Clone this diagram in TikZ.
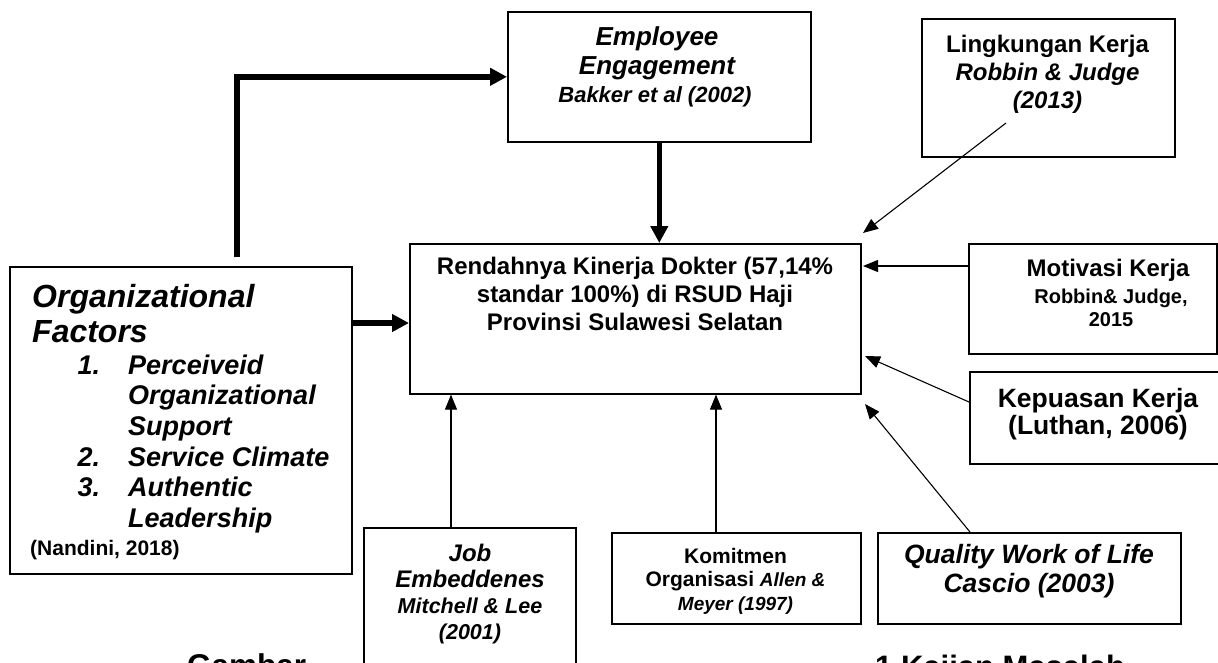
\documentclass[tikz,border=0pt]{standalone}
\usepackage{fontspec}
\setmainfont{Liberation Sans}
\usetikzlibrary{arrows.meta}
\newcommand\myfs[2]{\fontsize{#1}{#2}\selectfont}
\begin{document}
\begin{tikzpicture}[x=1pt,y=-1pt,
  box/.style={draw, line width=1.6pt, inner sep=0pt, anchor=north west},
  txt/.style={inner sep=0pt, align=center},
  plain/.style={inner sep=0pt},
  thickarrow/.style={line width=5.5pt, -{Triangle[length=17pt,width=17pt]}},
  thinarrow/.style={line width=1.1pt, -{Triangle[length=15pt,width=12pt]}}]
\fill[white] (0,0) rectangle (1218,662);
\useasboundingbox (0,0) rectangle (1218,662);
% boxes
\node[box, minimum width=303pt, minimum height=130pt] (ee) at (507,11) {};
\node[box, minimum width=253pt, minimum height=138pt] (lk) at (921,18) {};
\node[box, minimum width=451pt, minimum height=150pt] (cen) at (409,243) {};
\node[box, minimum width=342pt, minimum height=307pt] (org) at (9,266) {};
\node[box, minimum width=248pt, minimum height=110pt] (mk) at (968,243) {};
\node[box, minimum width=270pt, minimum height=92pt] (kp) at (969,371) {};
\node[box, minimum width=303pt, minimum height=91pt] (qw) at (877,532) {};
\node[box, minimum width=249pt, minimum height=91pt] (km) at (611,532) {};
\node[box, minimum width=212pt, minimum height=160pt] (jb) at (363,527) {};
% texts
\node[txt, font=\bfseries\itshape\myfs{26}{29}, anchor=north] (eeT) at (657,26.4) {Employee\\Engagement};
\node[txt, font=\bfseries\itshape\myfs{22}{26}, anchor=base] (eeB) at (655,102) {Bakker et al (2002)};
\node[txt, font=\bfseries\myfs{24}{28}, anchor=north] (lkT) at (1047.5,34.5) {Lingkungan Kerja\\{\itshape Robbin \& Judge}\\{\itshape (2013)}};
\node[txt, font=\bfseries\myfs{24}{28}, anchor=north] (cenT) at (635,256.5) {Rendahnya Kinerja Dokter (57,14\%\\standar 100\%) di RSUD Haji\\Provinsi Sulawesi Selatan};
\node[txt, font=\bfseries\itshape\myfs{32}{35}, anchor=north west, align=left] (orgT) at (32,284) {Organizational\\Factors};
\node[plain, font=\bfseries\itshape\myfs{27}{30.6}, anchor=north west] (orgL) at (77.5,352.6) {\begin{tabular}{@{}r@{\hspace{28pt}}l@{}}1. & Perceiveid\\ & Organizational\\ & Support\\ 2. & Service Climate\\ 3. & Authentic\\ & Leadership\end{tabular}};
\node[plain, font=\bfseries\myfs{21}{25}, anchor=base west] (orgN) at (30,555) {(Nandini, 2018)};
\node[plain, font=\bfseries\myfs{24}{28}, anchor=base] (mkA) at (1108,276) {Motivasi Kerja};
\node[txt, font=\bfseries\myfs{20}{23}, anchor=north] (mkB) at (1111,288.4) {Robbin\& Judge,\\2015};
\node[txt, font=\bfseries\myfs{26.5}{27.5}, anchor=north] (kpT) at (1098,388) {Kepuasan Kerja\\(Luthan, 2006)};
\node[txt, font=\bfseries\itshape\myfs{26.5}{29}, anchor=north] (qwT) at (1029,543.7) {Quality Work of Life\\Cascio (2003)};
\node[txt, font=\bfseries\myfs{21}{23.5}, anchor=north] (kmT) at (735.5,547.7) {Komitmen\\Organisasi {\itshape\myfs{19}{23.5}Allen \&}\\{\itshape\myfs{19}{23.5}Meyer (1997)}};
\node[txt, font=\bfseries\itshape\myfs{24}{26}, anchor=north] (jbT) at (470,543.7) {Job\\Embeddenes\\{\myfs{21.5}{26}Mitchell \& Lee}\\{\myfs{21.5}{26}(2001)}};
\node[plain, font=\bfseries\myfs{31.5}{36}, anchor=base west] (gam) at (187,676) {Gambar};
\node[plain, font=\bfseries\myfs{31}{36}, anchor=base west] (kaj) at (875,677) {1 Kajian Masalah};
% thick arrows
\coordinate (orgTop) at (237,257);
\draw[thickarrow] (orgTop) |- (ee.west);
\coordinate (y323) at (0,323);
\draw[thickarrow] (org.east |- y323) -- (cen.west |- y323);
\draw[thickarrow] (ee.south) -- (ee.south |- cen.north);
% thin arrows
\coordinate (lkS) at (1006,123);
\coordinate (lkE) at (863,233);
\draw[thinarrow] (lkS) -- (lkE);
\coordinate (mkE) at (863,266);
\draw[thinarrow] (mk.west |- mkE) -- (mkE);
\coordinate (kpS) at (969,402);
\coordinate (kpE) at (865,356);
\draw[thinarrow] (kpS) -- (kpE);
\coordinate (qwS) at (970,532);
\coordinate (qwE) at (865,404);
\draw[thinarrow] (qwS) -- (qwE);
\coordinate (kmX) at (716,0);
\draw[thinarrow] (km.north -| kmX) -- (cen.south -| kmX);
\coordinate (jbX) at (451,0);
\draw[thinarrow] (jb.north -| jbX) -- (cen.south -| jbX);
\end{tikzpicture}
\end{document}
